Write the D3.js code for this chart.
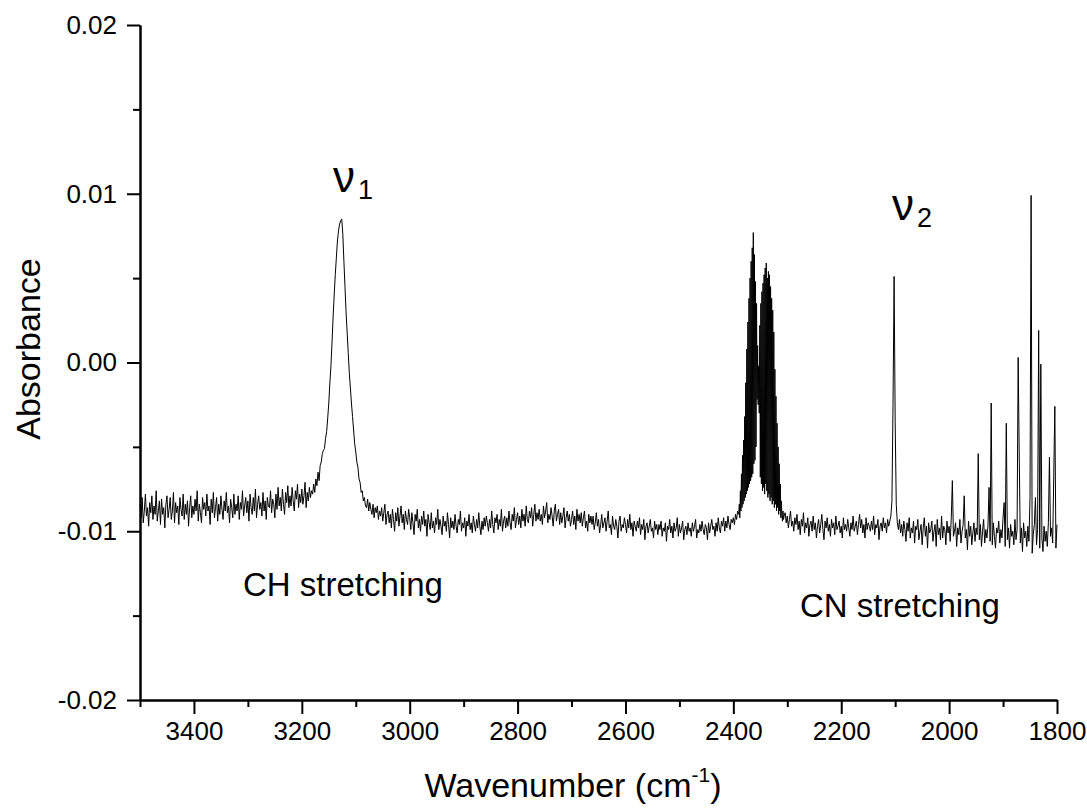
<!DOCTYPE html>
<html>
<head>
<meta charset="utf-8">
<script src="https://cdn.jsdelivr.net/npm/d3@7"></script>
<style>
  body { margin: 0; background: #fff; }
  svg text { font-family: "Liberation Sans", Arial, sans-serif; fill: #000; }
</style>
</head>
<body>
<script>
// Spectrum values are stored in units of 1e-4 absorbance, sampled on an even wavenumber grid per segment
// segment 1: 3500 -> 2392 cm-1, every 2 cm-1 (CH stretch region)
const seg1Start = 3500, seg1Step = 2;
const seg1Values = [
  -84,-92,-80,-95,-88,-78,-91,-86,-97,-83,
  -89,-79,-93,-85,-90,-76,-94,-88,-82,-96,
  -81,-90,-86,-98,-84,-79,-92,-87,-80,-93,
  -88,-77,-95,-83,-89,-85,-96,-80,-87,-91,
  -78,-93,-84,-90,-82,-97,-86,-79,-92,-85,
  -90,-81,-88,-76,-94,-84,-89,-95,-80,-87,
  -83,-91,-78,-88,-85,-96,-81,-89,-77,-92,
  -86,-80,-94,-84,-90,-79,-87,-93,-82,-88,
  -77,-89,-85,-95,-81,-86,-92,-78,-90,-84,
  -88,-79,-93,-83,-87,-76,-91,-85,-80,-89,
  -82,-94,-78,-86,-90,-80,-88,-75,-92,-84,
  -79,-87,-83,-91,-77,-88,-82,-93,-80,-85,
  -86,-76,-89,-81,-84,-92,-78,-87,-74,-85,
  -80,-88,-75,-84,-90,-77,-83,-73,-86,-79,
  -85,-74,-82,-88,-76,-81,-72,-86,-78,-83,
  -75,-84,-79,-71,-86,-77,-82,-74,-80,-76,
  // nu1 band
  -78,-72,-77,-69,-73,-65,-70,-61,-59,-54,
  -52,-51,-45,-41,-33,-24,-12,-2,12,27,
  40,52,62,72,78,82,84,85,76,60,
  45,30,18,6,-6,-15,-24,-32,-40,-48,
  -53,-59,-62,-69,-71,-77,-76,-82,-80,-85,
  -86,-81,-88,-83,-87,-90,-84,-92,-86,-89,
  -85,-93,-88,-91,-86,-94,-89,-84,-96,-90,
  // baseline
  -88,-95,-90,-98,-87,-93,-100,-89,-94,-86,
  -97,-91,-85,-95,-90,-99,-88,-93,-96,-87,
  -92,-99,-89,-95,-102,-90,-94,-87,-98,-93,
  -100,-91,-96,-88,-97,-93,-103,-90,-95,-99,
  -89,-98,-94,-101,-92,-96,-87,-99,-93,-97,
  -102,-91,-97,-94,-100,-89,-96,-104,-92,-98,
  -94,-99,-90,-97,-101,-93,-96,-88,-100,-95,
  -98,-92,-103,-94,-97,-90,-99,-95,-101,-91,
  -96,-100,-93,-98,-89,-97,-102,-94,-99,-92,
  -97,-91,-95,-100,-93,-98,-88,-96,-101,-92,
  -95,-90,-99,-93,-97,-87,-100,-94,-91,-98,
  -92,-97,-88,-95,-99,-90,-94,-86,-98,-93,
  -89,-96,-91,-98,-87,-94,-90,-97,-85,-93,
  -95,-88,-92,-86,-97,-90,-84,-94,-89,-93,
  -87,-94,-90,-96,-85,-92,-88,-83,-95,-90,
  -93,-86,-91,-97,-88,-84,-94,-90,-87,-96,
  -89,-95,-91,-86,-98,-92,-88,-94,-90,-97,
  -93,-88,-96,-91,-99,-87,-94,-90,-95,-89,
  -97,-92,-88,-98,-94,-100,-90,-95,-91,-96,
  -91,-99,-95,-89,-97,-93,-101,-96,-90,-98,
  -95,-92,-100,-94,-88,-98,-96,-102,-91,-97,
  -99,-93,-97,-104,-94,-91,-100,-96,-98,-92,
  -96,-101,-93,-98,-90,-99,-95,-103,-94,-97,
  -100,-94,-98,-92,-102,-96,-99,-93,-105,-97,
  -95,-101,-97,-93,-100,-98,-104,-94,-99,-96,
  -102,-96,-99,-94,-103,-98,-100,-95,-106,-97,
  -99,-93,-101,-97,-104,-95,-100,-98,-92,-103,
  -96,-101,-98,-94,-105,-99,-97,-102,-95,-100,
  -98,-103,-95,-100,-97,-93,-104,-99,-101,-96,
  -100,-94,-99,-102,-96,-98,-105,-95,-101,-97,
  -93,-99,-97,-103,-95,-100,-92,-98,-101,-94,
  -97,-92,-100,-94,-98,-91,-96,-99,-93,-95,
  -92,-96,-90,-93,-88
];

// segment 2: 2390 -> 2306 cm-1, every 1 cm-1 (CO2 rotational lines)
const seg2Start = 2390, seg2Step = 1;
const seg2Values = [
  -90,-84,-92,-76,-88,-66,-86,-55,-84,-46,
  -82,-32,-80,-12,-78,8,-76,24,-74,38,
  -72,50,-70,60,-68,68,-66,77,-60,64,
  -58,48,-50,35,-22,10,-25,-2,-30,22,
  -68,35,-72,42,-76,47,-74,52,-78,56,
  -72,59,-76,50,-80,54,-78,52,-82,45,
  -80,38,-84,31,-82,18,-86,-4,-84,-20,
  -88,-36,-86,-50,-90,-60,-88,-72,-92,-82,
  -90,-94,-88,-93,-91
];

// segment 3: 2304 -> 1800 cm-1, every 2 cm-1 (CN stretch and water lines)
const seg3Start = 2304, seg3Step = 2;
const seg3Values = [
  -89,-95,-91,-98,-93,-88,-97,-94,-100,-92,
  -96,-90,-99,-94,-102,-93,-97,-89,-101,-95,
  -98,-92,-103,-96,-94,-100,-91,-99,-95,-104,
  -97,-93,-101,-96,-90,-99,-105,-94,-98,-92,
  -100,-96,-103,-93,-98,-95,-102,-91,-99,-97,
  -94,-101,-97,-104,-92,-99,-96,-100,-93,-98,
  -103,-95,-99,-91,-100,-97,-94,-102,-96,-90,
  -98,-93,-101,-96,-104,-92,-99,-95,-97,-100,
  -94,-99,-91,-102,-96,-98,-93,-105,-97,-95,
  -100,-92,-98,-95,-101,-93,-97,-94,
  // nu2 band
  -91,-82,-25,51,-35,-84,-95,-99,-93,-101,
  -96,-103,-94,-99,-106,-95,-100,-92,-104,-98,
  -101,-94,-107,-97,-99,-93,-105,-100,-96,-108,
  -98,-92,-103,-97,-110,-95,-101,-99,-94,-106,
  -100,-96,-109,-93,-102,-98,-105,-91,-104,-97,
  -99,-108,-94,-101,-97,-106,-92,-70,-103,-100,
  -95,-109,-98,-102,-93,-107,-100,-96,-79,-104,
  -99,-111,-94,-103,-97,-108,-101,-95,-106,-98,
  -102,-54,-105,-96,-109,-100,-93,-107,-99,-104,
  -97,-74,-106,-24,-108,-95,-103,-110,-98,-101,
  -94,-107,-99,-104,-92,-83,-109,-36,-105,-98,
  -110,-96,-103,-100,-108,-93,-105,-99,3,-56,
  -107,-98,-112,-95,-104,-100,-109,-97,-106,-80,
  99,-113,-102,-96,-80,-108,-99,19,-110,-1,
  -104,-112,-97,-106,-100,-109,-95,-56,-103,-98,
  -107,-67,-26,-110,-96
];

const xTicks = [3400, 3200, 3000, 2800, 2600, 2400, 2200, 2000, 1800];
const xMinorTicks = [3500, 3300, 3100, 2900, 2700, 2500, 2300, 2100, 1900];
const yTicks = [-0.02, -0.01, 0.00, 0.01, 0.02];
const yMinorTicks = [-0.015, -0.005, 0.005, 0.015];

const w = 1087, h = 808;
const svg = d3.select('body').append('svg').attr('width', w).attr('height', h);

const xScale = d3.scaleLinear().domain([3500, 1800]).range([140, 1057]);
const yScale = d3.scaleLinear().domain([-0.02, 0.02]).range([700, 25]);

// build the spectrum points from the segments
function segPoints(start, step, vals){
  return vals.map((v, i) => ({wn: start - i*step, a: v*1e-4}));
}
const spectrum = segPoints(seg1Start, seg1Step, seg1Values)
  .concat(segPoints(seg2Start, seg2Step, seg2Values))
  .concat(segPoints(seg3Start, seg3Step, seg3Values));

const line = d3.line().x(d => xScale(d.wn)).y(d => yScale(d.a));
svg.append('path').datum(spectrum).attr('d', line)
  .attr('fill', 'none').attr('stroke', '#000').attr('stroke-width', 1);

// axes: major ticks with labels, minor ticks without
const xAxis = d3.axisBottom(xScale).tickValues(xTicks).tickSize(14).tickSizeOuter(0).tickPadding(8).tickFormat(d => d);
const xMinor = d3.axisBottom(xScale).tickValues(xMinorTicks).tickSize(7).tickSizeOuter(0).tickFormat('');
const yAxis = d3.axisLeft(yScale).tickValues(yTicks).tickSize(13).tickSizeOuter(0).tickPadding(10).tickFormat(d => d.toFixed(2));
const yMinor = d3.axisLeft(yScale).tickValues(yMinorTicks).tickSize(7).tickSizeOuter(0).tickFormat('');

function styleAxis(g){
  g.selectAll('path,line').attr('stroke', '#000').attr('stroke-width', 2);
  g.selectAll('text').attr('font-size', 26).attr('fill', '#000');
}
svg.append('g').attr('transform', 'translate(0,700)').call(xMinor).call(styleAxis);
svg.append('g').attr('transform', 'translate(140,0)').call(yMinor).call(styleAxis);
svg.append('g').attr('transform', 'translate(0,700)').call(xAxis).call(styleAxis);
svg.append('g').attr('transform', 'translate(140,0)').call(yAxis).call(styleAxis);

// axis titles
svg.append('text').attr('transform', 'translate(40,349) rotate(-90)')
  .attr('text-anchor', 'middle').attr('font-size', 34).text('Absorbance');
const xt = svg.append('text').attr('x', 573).attr('y', 797).attr('text-anchor', 'middle').attr('font-size', 34);
xt.append('tspan').text('Wavenumber (cm');
xt.append('tspan').attr('font-size', 21).attr('dy', -15).text('-1');
xt.append('tspan').attr('dy', 15).text(')');

// band annotations
svg.append('text').attr('x', 243).attr('y', 596).attr('font-size', 33).text('CH stretching');
svg.append('text').attr('x', 800).attr('y', 617).attr('font-size', 33).text('CN stretching');
const n1 = svg.append('text').attr('x', 333).attr('y', 192).attr('font-size', 44);
n1.append('tspan').text('ν');
n1.append('tspan').attr('font-size', 27).attr('dx', 3).attr('dy', 7).text('1');
const n2 = svg.append('text').attr('x', 892).attr('y', 220).attr('font-size', 44);
n2.append('tspan').text('ν');
n2.append('tspan').attr('font-size', 27).attr('dx', 3).attr('dy', 7).text('2');
</script>
</body>
</html>
